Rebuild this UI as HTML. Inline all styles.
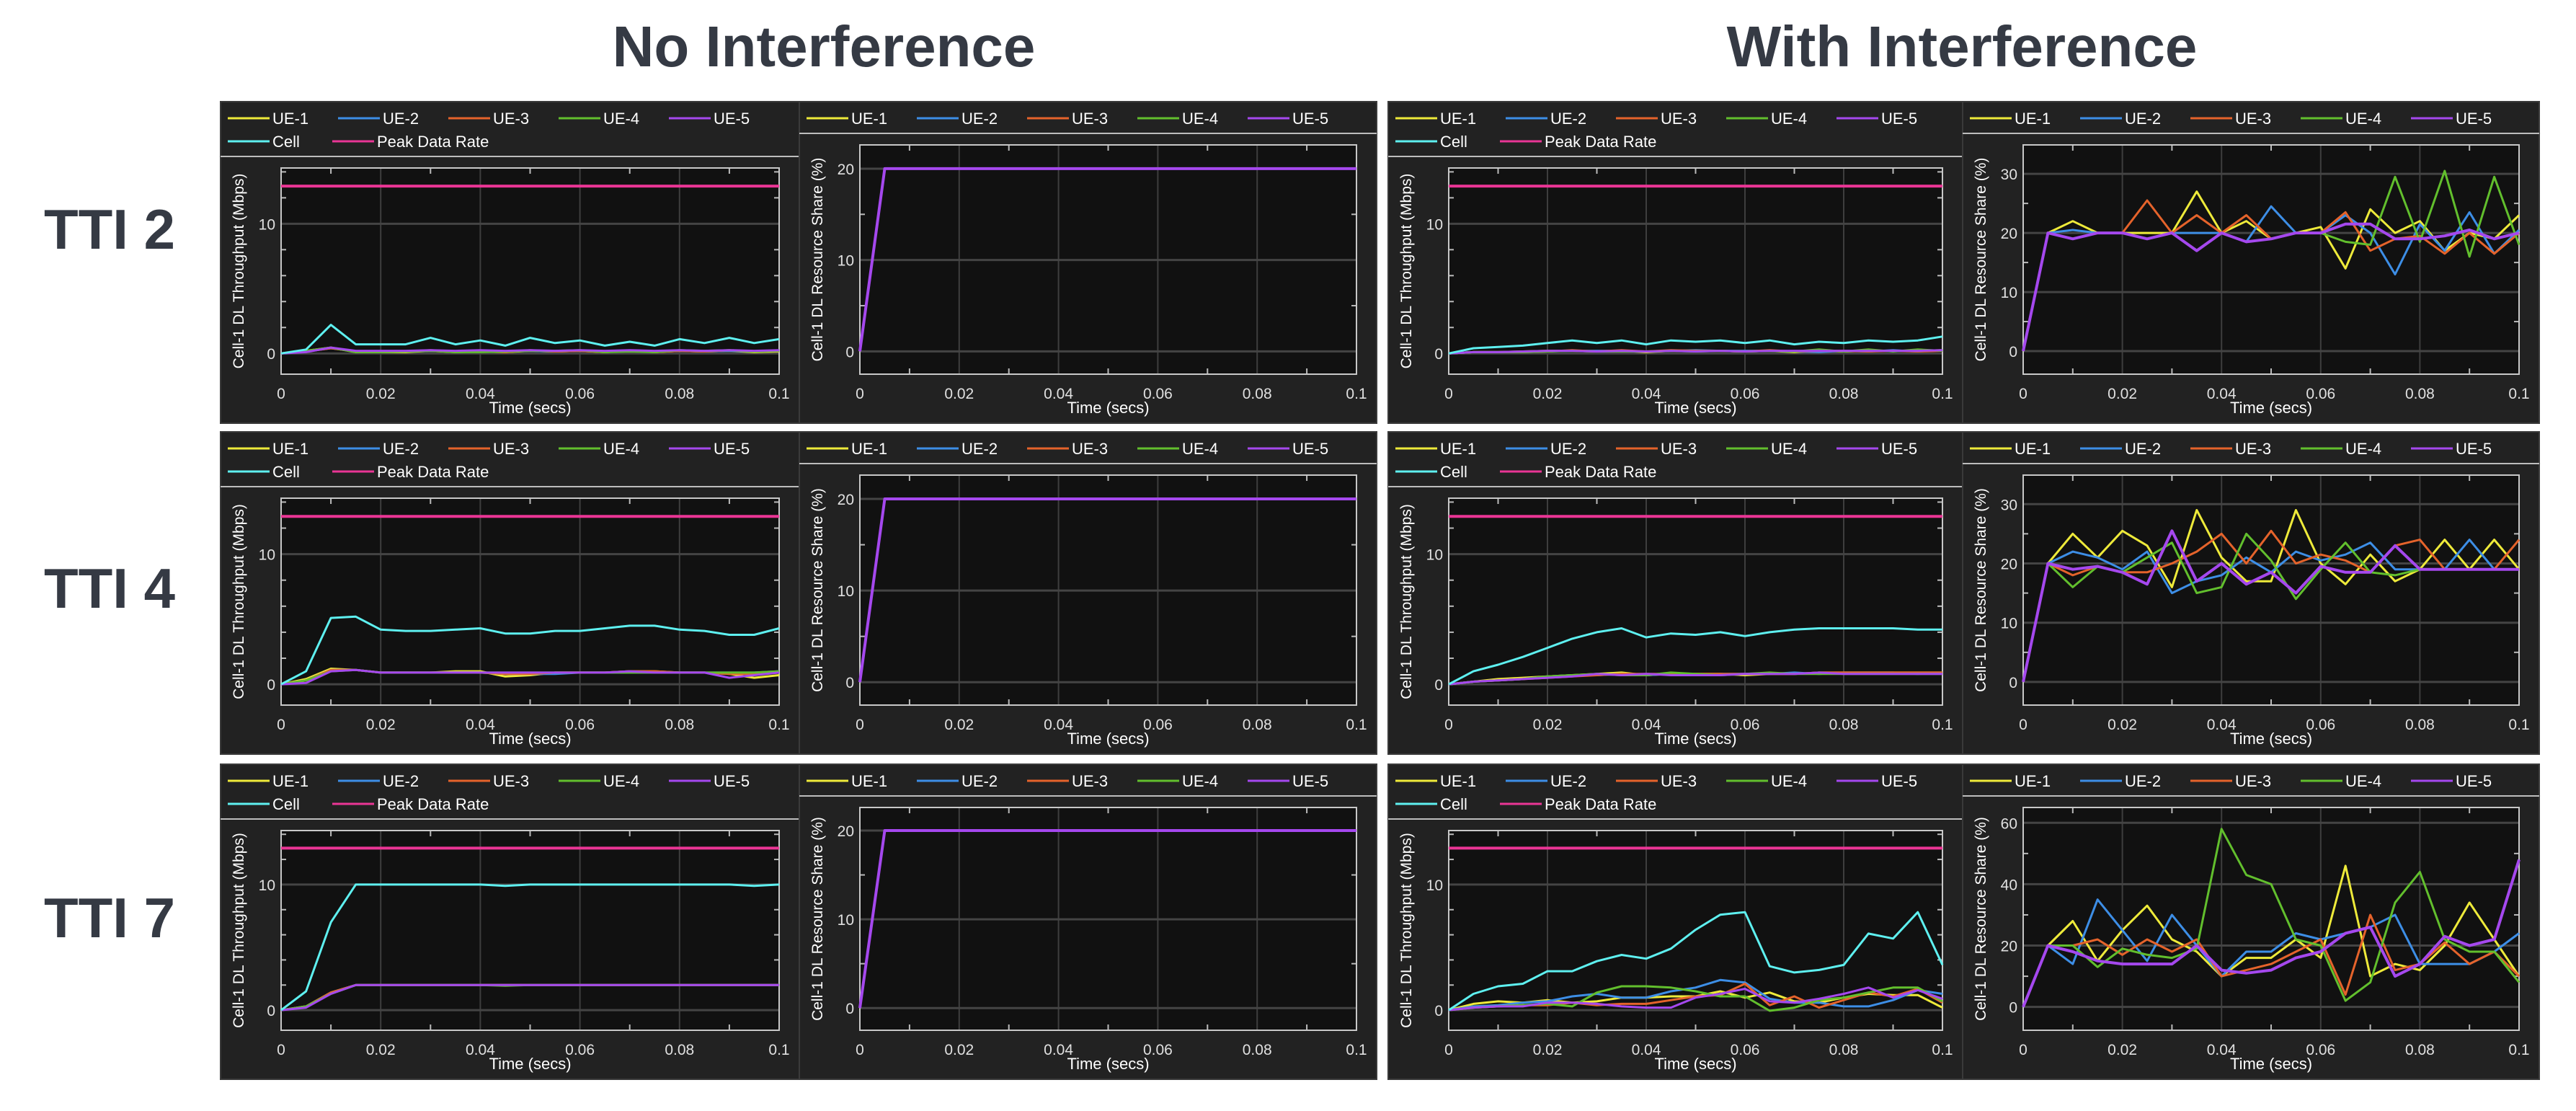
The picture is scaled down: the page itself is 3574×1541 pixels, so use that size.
<!DOCTYPE html>
<html><head><meta charset="utf-8">
<style>
html,body{margin:0;padding:0;background:#fff;}
body{width:3574px;height:1536px;overflow:hidden;position:relative;font-family:"Liberation Sans",sans-serif;}
svg text{font-family:"Liberation Sans",sans-serif;}
</style></head>
<body>
<svg id="root" width="3574" height="1536" viewBox="0 0 3574 1536" xmlns="http://www.w3.org/2000/svg">
<text x="1143" y="92" font-size="80" font-weight="bold" fill="#353a44" text-anchor="middle">No Interference</text>
<text x="2722" y="92" font-size="80" font-weight="bold" fill="#353a44" text-anchor="middle">With Interference</text>
<text x="152" y="345" font-size="78" font-weight="bold" fill="#353a44" text-anchor="middle">TTI 2</text>
<text x="152" y="843" font-size="78" font-weight="bold" fill="#353a44" text-anchor="middle">TTI 4</text>
<text x="152" y="1300" font-size="78" font-weight="bold" fill="#353a44" text-anchor="middle">TTI 7</text>
</svg>
<script>
const times=[0,0.005,0.01,0.015,0.02,0.025,0.03,0.035,0.04,0.045,0.05,0.055,0.06,0.065,0.07,0.075,0.08,0.085,0.09,0.095,0.1];
const xTicks=[0,0.02,0.04,0.06,0.08,0.1];
const xTickLabels=["0","0.02","0.04","0.06","0.08","0.1"];
const peakRate=12.9;
// NI TTI2 throughput
const ni2Cell=[0,0.3,2.2,0.7,0.7,0.7,1.2,0.7,1.0,0.6,1.2,0.8,1.0,0.6,0.9,0.6,1.1,0.8,1.2,0.8,1.1];
const ni2Ue1=[0,0.2,0.45,0.1,0.1,0.1,0.2,0.1,0.15,0.1,0.2,0.15,0.2,0.1,0.2,0.1,0.2,0.15,0.2,0.1,0.15];
const ni2Ue2=[0,0.15,0.4,0.15,0.15,0.15,0.2,0.15,0.2,0.15,0.2,0.15,0.2,0.15,0.2,0.15,0.2,0.15,0.2,0.15,0.2];
const ni2Ue3=[0,0.15,0.4,0.15,0.15,0.15,0.25,0.15,0.2,0.1,0.25,0.15,0.2,0.1,0.2,0.1,0.2,0.15,0.25,0.15,0.2];
const ni2Ue4=[0,0.2,0.45,0.1,0.1,0.15,0.2,0.1,0.1,0.15,0.2,0.2,0.25,0.1,0.15,0.1,0.25,0.2,0.25,0.15,0.2];
const ni2Ue5=[0,0.1,0.45,0.2,0.2,0.2,0.25,0.2,0.25,0.2,0.25,0.2,0.25,0.2,0.25,0.2,0.25,0.2,0.25,0.2,0.25];
// NI TTI4 throughput
const ni4Cell=[0,1,5.1,5.2,4.2,4.1,4.1,4.2,4.3,3.9,3.9,4.1,4.1,4.3,4.5,4.5,4.2,4.1,3.8,3.8,4.3];
const ni4Ue1=[0,0.4,1.2,1.1,0.9,0.9,0.9,1.0,1.0,0.6,0.7,0.9,0.9,0.9,1.0,1.0,0.9,0.9,0.8,0.5,0.7];
const ni4Ue2=[0,0.3,1.1,1.1,0.9,0.9,0.9,0.9,0.9,0.8,0.8,0.8,0.9,0.9,0.9,0.9,0.9,0.9,0.9,0.9,1.0];
const ni4Ue3=[0,0.3,1.1,1.1,0.9,0.9,0.9,0.9,0.9,0.8,0.8,0.9,0.9,0.9,1.0,1.0,0.9,0.9,0.8,0.8,0.9];
const ni4Ue4=[0,0.3,1.0,1.1,0.9,0.9,0.9,0.9,0.9,0.9,0.9,0.9,0.9,0.9,0.9,0.9,0.9,0.9,0.9,0.9,1.0];
const ni4Ue5=[0,0.1,1.0,1.1,0.9,0.9,0.9,0.9,0.9,0.9,0.9,0.9,0.9,0.9,1.0,0.9,0.9,0.9,0.5,0.7,0.9];
// NI TTI7 throughput
const ni7Cell=[0,1.5,7,10,10,10,10,10,10,9.9,10,10,10,10,10,10,10,10,10,9.9,10];
const ni7Ue1=[0,0.3,1.4,2,2,2,2,2,2,2,2,2,2,2,2,2,2,2,2,2,2];
const ni7Ue2=[0,0.3,1.4,2,2,2,2,2,2,2,2,2,2,2,2,2,2,2,2,2,2];
const ni7Ue3=[0,0.3,1.4,2,2,2,2,2,2,2,2,2,2,2,2,2,2,2,2,2,2];
const ni7Ue4=[0,0.3,1.3,2,2,2,2,2,2,1.95,2,2,2,2,2,2,2,2,2,2,2];
const ni7Ue5=[0,0.2,1.3,2,2,2,2,2,2,2,2,2,2,2,2,2,2,2,2,2,2];
// NI resource share
const niShare=[0,20,20,20,20,20,20,20,20,20,20,20,20,20,20,20,20,20,20,20,20];
// WI TTI2 throughput
const wi2Cell=[0,0.4,0.5,0.6,0.8,1.0,0.8,1.0,0.7,1.0,0.9,1.0,0.8,1.0,0.7,0.9,0.8,1.0,0.9,1.0,1.3];
const wi2Ue1=[0,0.1,0.1,0.15,0.2,0.2,0.15,0.2,0.1,0.2,0.2,0.2,0.15,0.2,0.1,0.2,0.15,0.2,0.2,0.2,0.25];
const wi2Ue2=[0,0.1,0.1,0.1,0.15,0.2,0.2,0.2,0.15,0.2,0.25,0.2,0.2,0.2,0.15,0.1,0.2,0.15,0.25,0.15,0.25];
const wi2Ue3=[0,0.1,0.1,0.1,0.15,0.25,0.15,0.25,0.15,0.25,0.2,0.2,0.15,0.25,0.15,0.2,0.2,0.15,0.2,0.15,0.2];
const wi2Ue4=[0,0.1,0.1,0.1,0.15,0.2,0.15,0.15,0.15,0.2,0.15,0.2,0.15,0.2,0.15,0.3,0.15,0.3,0.15,0.3,0.2];
const wi2Ue5=[0,0.1,0.1,0.15,0.2,0.2,0.15,0.2,0.15,0.2,0.15,0.2,0.15,0.2,0.2,0.2,0.2,0.2,0.2,0.2,0.25];
const wi2Ue1S=[0,20,22,20,20,20,20,27,20,22,19,20,21,14,24,20,22,17,20,19,23];
const wi2Ue2S=[0,20,20.5,20,20,19,20,20,20,18.5,24.5,20,20,23,20,13,21.5,17,23.5,16.5,20.5];
const wi2Ue3S=[0,20,19,20,20,25.5,20,23,20,23,19,20,20,23.5,17,19,19.5,16.5,20,16.5,20];
const wi2Ue4S=[0,20,19,20,20,19,20,17,20,18.5,19,20,20,18.5,18,29.5,18.5,30.5,16,29.5,18];
const wi2Ue5S=[0,20,19,20,20,19,20,17,20,18.5,19,20,20,21.5,21.5,19,19,19.5,20.5,19,20];
// WI TTI4
const wi4Cell=[0,1,1.5,2.1,2.8,3.5,4,4.3,3.6,3.9,3.8,4,3.7,4,4.2,4.3,4.3,4.3,4.3,4.2,4.2];
const wi4Ue1=[0,0.2,0.4,0.5,0.6,0.7,0.8,0.9,0.7,0.8,0.8,0.8,0.7,0.8,0.8,0.9,0.9,0.9,0.9,0.9,0.9];
const wi4Ue2=[0,0.2,0.3,0.4,0.6,0.7,0.7,0.8,0.7,0.8,0.7,0.8,0.8,0.8,0.9,0.8,0.9,0.9,0.9,0.8,0.9];
const wi4Ue3=[0,0.2,0.3,0.4,0.5,0.6,0.7,0.8,0.8,0.8,0.8,0.8,0.8,0.8,0.8,0.9,0.9,0.9,0.9,0.9,0.9];
const wi4Ue4=[0,0.2,0.3,0.4,0.6,0.7,0.8,0.7,0.7,0.9,0.8,0.7,0.8,0.9,0.8,0.8,0.8,0.8,0.8,0.8,0.8];
const wi4Ue5=[0,0.2,0.3,0.4,0.5,0.6,0.8,0.7,0.8,0.7,0.7,0.7,0.8,0.8,0.8,0.9,0.8,0.8,0.8,0.8,0.8];
const wi4Ue1S=[0,20,25,21,25.5,23,16,29,21,17,17,29,20,16.5,21.5,17,19,24,19,24,19];
const wi4Ue2S=[0,20,22,21,19,22,15,17,18,21,18.5,22,20.5,21.5,23.5,19,19,19,24,19,19];
const wi4Ue3S=[0,20,18,19.5,18.5,18.5,20,22,25,20,25.5,20,21.5,20.5,18.5,23,24,19,19,19,24];
const wi4Ue4S=[0,20,16,19.5,18.5,21,23.5,15,16,25,20.5,14,19,23.5,18.5,18,19,19,19,19,19];
const wi4Ue5S=[0,20,19,19.5,18.5,16.5,25.5,17,20,16.5,18.5,15,19.5,18.5,18.5,23,19,19,19,19,19];
// WI TTI7
const wi7Cell=[0,1.3,1.9,2.1,3.1,3.1,3.9,4.4,4.1,4.9,6.4,7.6,7.8,3.5,3.0,3.2,3.6,6.1,5.7,7.8,3.6];
const wi7Ue1=[0,0.5,0.7,0.6,0.8,0.6,0.7,1.0,1.0,1.1,1.1,1.5,1.0,1.4,0.7,0.6,1.0,1.3,1.2,1.2,0.2];
const wi7Ue2=[0,0.3,0.4,0.6,0.7,1.1,1.3,1.0,1.0,1.5,1.8,2.4,2.2,0.9,0.6,0.6,0.3,0.3,0.8,1.6,1.3];
const wi7Ue3=[0,0.2,0.3,0.4,0.4,0.6,0.4,0.5,0.5,0.8,1.1,1.2,2.1,0.4,1.1,0.2,0.8,1.4,1.1,1.7,0.6];
const wi7Ue4=[0,0.2,0.3,0.4,0.5,0.3,1.4,1.9,1.9,1.8,1.5,1.1,1.1,-0.05,0.2,0.8,1.0,1.4,1.8,1.8,0.7];
const wi7Ue5=[0,0.2,0.3,0.3,0.6,0.6,0.5,0.3,0.2,0.2,1.0,1.3,1.7,0.7,0.6,0.9,1.3,1.8,1.0,1.6,0.9];
const wi7Ue1S=[0,20,28,15,25,33,22,18,10,16,16,22,16,46,10,14,12,20,34,22,10];
const wi7Ue2S=[0,20,14,35,25,15,30,20,10,18,18,24,22,24,26,30,14,14,14,18,24];
const wi7Ue3S=[0,20,20,22,17,22,18,22,10,12,14,18,22,4,30,12,14,21,14,18,10];
const wi7Ue4S=[0,20,20,13,19,17,16,19,58,43,40,22,20,2,8,34,44,22,18,18,8];
const wi7Ue5S=[0,20,18,15,14,14,14,20,12,11,12,16,18,24,26,10,14,23,20,22,48];

const C={ue1:"#eeea3a",ue2:"#3d8ee6",ue3:"#e5632b",ue4:"#62bf2d",ue5:"#a548ee",cell:"#5ef0f0",peak:"#ea3595"};
const NS="http://www.w3.org/2000/svg";
const root=document.getElementById('root');
function mk(tag,attrs,parent){const e=document.createElementNS(NS,tag);for(const k in attrs)e.setAttribute(k,attrs[k]);(parent||root).appendChild(e);return e;}

function panel(px,py,w,h,kind,ylim,yticks,minor,series,name){
  const g=mk('g',{});
  
  
  const bg=mk('rect',{x:px,y:py,width:w,height:h,fill:"#222222",stroke:"#3a3a3a","stroke-width":2},g);
  
  
  const two=kind==='tp';
  const sepY=py+(two?76:44);
  mk('line',{x1:px,x2:px+w,y1:sepY,y2:sepY,stroke:"#bdbdbd","stroke-width":2},g);
  // legend
  const leg=two?[["UE-1",C.ue1],["UE-2",C.ue2],["UE-3",C.ue3],["UE-4",C.ue4],["UE-5",C.ue5],["Cell",C.cell],["Peak Data Rate",C.peak]]:[["UE-1",C.ue1],["UE-2",C.ue2],["UE-3",C.ue3],["UE-4",C.ue4],["UE-5",C.ue5]];
  leg.forEach((l,i)=>{
    let lx,ly;
    if(i<5){lx=px+10+i*153;ly=py+23;}else{lx=px+10+(i-5)*145;ly=py+55;}
    const eg=mk('g',{},g);
    
    
    mk('line',{x1:lx,x2:lx+58,y1:ly,y2:ly,stroke:l[1],"stroke-width":3},eg);
    const t=mk('text',{x:lx+62,y:ly+8,"font-size":22,fill:"#ffffff"},eg);t.textContent=l[0];
  });
  const L=px+84,R=px+w-28,T=py+(two?92:60),B=py+h-68;
  const xs=v=>L+(v-0)/(0.1)*(R-L);
  const ys=v=>B-(v-ylim[0])/(ylim[1]-ylim[0])*(B-T);
  const pa=mk('rect',{x:L,y:T,width:R-L,height:B-T,fill:"#111111"},g);
  
  
  xTicks.forEach((v,i)=>{
    mk('line',{x1:xs(v),x2:xs(v),y1:T,y2:B,stroke:"#3e3e3e","stroke-width":2},g);
    const t=mk('text',{x:xs(v),y:B+34,"font-size":21,fill:"#e0e0e0","text-anchor":"middle"},g);
    
    
    t.textContent=xTickLabels[i];
    if(i<xTicks.length-1){const m=v+0.01;mk('line',{x1:xs(m),x2:xs(m),y1:T,y2:T+8,stroke:"#bbb","stroke-width":2},g);mk('line',{x1:xs(m),x2:xs(m),y1:B,y2:B-8,stroke:"#bbb","stroke-width":2},g);}
  });
  yticks.forEach(v=>{
    mk('line',{x1:L,x2:R,y1:ys(v),y2:ys(v),stroke:"#444","stroke-width":3},g);
    const t=mk('text',{x:L-8,y:ys(v)+8,"font-size":21,fill:"#e0e0e0","text-anchor":"end"},g);
    
    
    t.textContent=String(v);
  });
  minor.forEach(v=>{mk('line',{x1:L,x2:L+7,y1:ys(v),y2:ys(v),stroke:"#bbb","stroke-width":2},g);mk('line',{x1:R,x2:R-7,y1:ys(v),y2:ys(v),stroke:"#bbb","stroke-width":2},g);});
  mk('rect',{x:L,y:T,width:R-L,height:B-T,fill:"none",stroke:"#c8c8c8","stroke-width":2},g);
  const xl=mk('text',{x:(L+R)/2,y:py+h-14,"font-size":22,fill:"#ffffff","text-anchor":"middle"},g);
  
  
  xl.textContent="Time (secs)";
  const yc=(T+B)/2, yx=px+32;
  const yl=mk('text',{x:yx,y:yc,"font-size":21,fill:"#ffffff","text-anchor":"middle",transform:`rotate(-90 ${yx} ${yc})`},g);
  
  
  yl.textContent=two?"Cell-1 DL Throughput (Mbps)":"Cell-1 DL Resource Share (%)";
  series.forEach(s=>{
    const d=s.vals.map((v,i)=>(i?'L':'M')+xs(times[i]).toFixed(1)+' '+ys(v).toFixed(1)).join(' ');
    const p=mk('path',{d:d,fill:"none",stroke:s.c,"stroke-width":s.w||3,"stroke-linejoin":"round"},g);
    
    
  });
  if(two){
    const p=mk('line',{x1:L,x2:R,y1:ys(peakRate),y2:ys(peakRate),stroke:C.peak,"stroke-width":4},g);
    
    
  }
}
function tpSeries(u1,u2,u3,u4,u5,cell){return [{n:'ue-1-line',c:C.ue1,vals:u1},{n:'ue-2-line',c:C.ue2,vals:u2},{n:'ue-3-line',c:C.ue3,vals:u3},{n:'ue-4-line',c:C.ue4,vals:u4},{n:'ue-5-line',c:C.ue5,vals:u5},{n:'cell-line',c:C.cell,vals:cell}];}
function shSeries(u1,u2,u3,u4,u5){return [{n:'ue-1-line',c:C.ue1,vals:u1},{n:'ue-2-line',c:C.ue2,vals:u2},{n:'ue-3-line',c:C.ue3,vals:u3},{n:'ue-4-line',c:C.ue4,vals:u4},{n:'ue-5-line',c:C.ue5,vals:u5,w:4}];}
const tpLim=[-1.6,14.3], tpTicks=[0,10], tpMinor=[2,4,6,8,12,14];
const niLim=[-2.5,22.6], niTicks=[0,10,20], niMinor=[5,15];
const wiLim=[-3.9,34.9], wiTicks=[0,10,20,30], wiMinor=[5,15,25];
const wi7Lim=[-7.6,65], wi7Ticks=[0,20,40,60], wi7Minor=[10,30,50];
const rows=[[141,446],[599,447],[1060,437]];
const niTp=[tpSeries(ni2Ue1,ni2Ue2,ni2Ue3,ni2Ue4,ni2Ue5,ni2Cell),tpSeries(ni4Ue1,ni4Ue2,ni4Ue3,ni4Ue4,ni4Ue5,ni4Cell),tpSeries(ni7Ue1,ni7Ue2,ni7Ue3,ni7Ue4,ni7Ue5,ni7Cell)];
const wiTp=[tpSeries(wi2Ue1,wi2Ue2,wi2Ue3,wi2Ue4,wi2Ue5,wi2Cell),tpSeries(wi4Ue1,wi4Ue2,wi4Ue3,wi4Ue4,wi4Ue5,wi4Cell),tpSeries(wi7Ue1,wi7Ue2,wi7Ue3,wi7Ue4,wi7Ue5,wi7Cell)];
const wiSh=[shSeries(wi2Ue1S,wi2Ue2S,wi2Ue3S,wi2Ue4S,wi2Ue5S),shSeries(wi4Ue1S,wi4Ue2S,wi4Ue3S,wi4Ue4S,wi4Ue5S),shSeries(wi7Ue1S,wi7Ue2S,wi7Ue3S,wi7Ue4S,wi7Ue5S)];
const tti=['2','4','7'];
rows.forEach((r,i)=>{
  panel(306,r[0],803,r[1],'tp',tpLim,tpTicks,tpMinor,niTp[i],'no-interference-tti'+tti[i]+'-throughput-chart');
  panel(1109,r[0],801,r[1],'sh',niLim,niTicks,niMinor,shSeries(niShare,niShare,niShare,niShare,niShare),'no-interference-tti'+tti[i]+'-share-chart');
  panel(1926,r[0],797,r[1],'tp',tpLim,tpTicks,tpMinor,wiTp[i],'with-interference-tti'+tti[i]+'-throughput-chart');
  if(i<2) panel(2723,r[0],800,r[1],'sh',wiLim,wiTicks,wiMinor,wiSh[i],'with-interference-tti'+tti[i]+'-share-chart');
  else panel(2723,r[0],800,r[1],'sh',wi7Lim,wi7Ticks,wi7Minor,wiSh[i],'with-interference-tti'+tti[i]+'-share-chart');
});
</script>
</body></html>
